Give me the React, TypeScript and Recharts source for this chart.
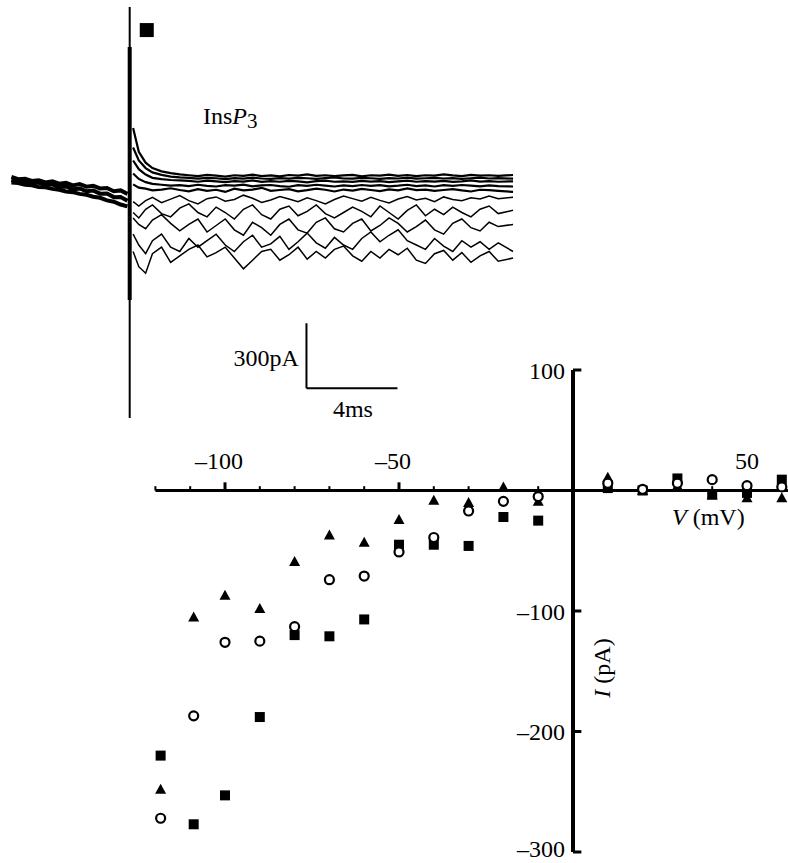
import React from 'react';
import { XAxis, YAxis, ReferenceLine, ReferenceDot, ScatterChart, Scatter } from 'recharts';

const FONT = "'Liberation Serif', 'Times New Roman', serif";

// ---------- I-V data ----------
const voltages = [-118.5, -109, -100, -90, -80, -70, -60, -50, -40, -30, -20, -10, 10, 20, 30, 40, 50, 60];
const currentSquare = [-220, -277, -253, -188, -120, -121, -107, -45, -45, -46, -22, -25, 2, 0, 10, -3, -2, 9];
const currentCircle = [-272, -187, -126, -125, -113, -74, -71, -51, -39, -17, -9, -5, 6, 1, 6, 9, 4, 3];
const currentTriangle = [-248, -105, -87, -98, -59, -37, -43, -24, -8, -10, 3, -9, 11, 0, 4, -4, -6, -6];

const xMajorTicks = [-100, -50, 50];
const xMinorTicks = [-120, -110, -90, -80, -70, -60, -40, -30, -20, -10, 10, 20, 30, 40, 60];
const yTicks = [100, -100, -200, -300];

// ---------- current traces (ms, pA) ----------
const preTimes = [-5.2, -4.9, -4.6, -4.3, -4.0, -3.7, -3.4, -3.1, -2.8, -2.5, -2.2, -1.9, -1.6, -1.3, -1.0, -0.7, -0.4, -0.1];
const preUpper = [14, 4, 6, -4, -1, -11, -6, -17, -13, -25, -19, -31, -27, -39, -37, -52, -48, -64];
const preMid = [0, -8, -5, -16, -12, -24, -20, -33, -30, -43, -39, -52, -49, -63, -62, -79, -78, -96];
const preLower = [-12, -14, -22, -24, -32, -34, -41, -45, -53, -56, -64, -68, -77, -82, -94, -100, -113, -122];

const postTimes = [0.15, 0.4, 0.7, 1.0, 1.4, 1.8, 2.2, 2.6, 3.0, 3.4, 3.8, 4.2, 4.6, 5.0, 5.4, 5.8, 6.2, 6.6, 7.0, 7.4, 7.8, 8.2, 8.6, 9.0, 9.4, 9.8, 10.2, 10.6, 11.0, 11.4, 11.8, 12.2, 12.6, 13.0, 13.4, 13.8, 14.2, 14.6, 15.0, 15.4, 15.8, 16.2, 16.85];
const traceA = [240, 130, 80, 55, 40, 32, 26, 22, 18, 24, 20, 16, 22, 19, 25, 18, 21, 17, 23, 20, 26, 19, 22, 18, 21, 24, 17, 22, 20, 25, 19, 23, 18, 22, 20, 26, 21, 18, 24, 20, 22, 19, 23];
const traceB = [150, 90, 55, 35, 24, 16, 12, 10, 6, 10, 8, 4, 9, 6, 11, 7, 5, 9, 6, 10, 8, 5, 9, 12, 7, 6, 10, 8, 5, 9, 7, 11, 6, 8, 10, 7, 9, 5, 8, 11, 7, 9, 6];
const traceC = [90, 50, 25, 10, 4, 0, -2, -4, -8, -3, -6, -10, -5, -7, -2, -9, -5, -8, -4, -6, -11, -5, -3, -8, -6, -9, -4, -7, -5, -10, -6, -3, -8, -5, -7, -4, -9, -6, -2, -7, -5, -8, -6];
const traceD = [30, 5, -10, -18, -22, -26, -24, -28, -22, -27, -30, -24, -26, -21, -29, -25, -23, -28, -31, -24, -27, -22, -26, -30, -25, -28, -23, -27, -24, -29, -26, -22, -28, -25, -30, -24, -27, -23, -26, -29, -25, -28, -30];
const traceE = [-20, -35, -40, -48, -44, -38, -46, -52, -42, -50, -45, -55, -40, -48, -44, -36, -50, -46, -42, -52, -47, -40, -45, -53, -44, -49, -41, -46, -51, -43, -48, -39, -47, -44, -50, -46, -42, -48, -53, -45, -47, -50, -55];
const traceF = [-100, -120, -95, -80, -105, -88, -72, -95, -110, -86, -78, -98, -90, -70, -84, -104, -92, -76, -88, -100, -82, -95, -110, -90, -74, -86, -98, -80, -94, -106, -88, -76, -92, -84, -100, -78, -90, -96, -82, -88, -74, -86, -80];
const traceG = [-150, -175, -135, -115, -155, -170, -130, -110, -150, -170, -125, -150, -180, -135, -115, -160, -180, -135, -120, -165, -145, -115, -155, -175, -150, -125, -145, -170, -120, -150, -180, -140, -115, -165, -135, -160, -125, -150, -170, -135, -120, -155, -140];
const traceH = [-175, -205, -225, -185, -160, -200, -235, -205, -180, -240, -210, -180, -230, -255, -195, -220, -255, -205, -180, -230, -245, -195, -175, -225, -240, -200, -180, -235, -210, -175, -200, -240, -215, -185, -230, -250, -200, -180, -220, -235, -195, -215, -205];
const traceI = [-250, -300, -340, -280, -250, -310, -330, -270, -310, -280, -250, -300, -330, -285, -255, -310, -295, -260, -320, -285, -245, -290, -315, -265, -300, -320, -270, -240, -285, -255, -230, -280, -300, -320, -270, -305, -330, -280, -310, -285, -320, -290, -330];
const traceJ = [-330, -400, -430, -340, -310, -380, -350, -320, -300, -355, -335, -310, -360, -410, -370, -330, -320, -370, -345, -310, -365, -330, -360, -320, -305, -350, -375, -330, -360, -320, -345, -315, -370, -385, -340, -325, -370, -335, -380, -350, -330, -375, -360];

// scale bar: 300 pA, 4 ms
const scaleBarT = 7.77;
const scaleBarI = -961;
const scaleBarMs = 4;
const scaleBarPa = 300;

// stimulus artifact extents (pA)
const artifactTop = 798;
const artifactBottom = -1098;
const artifactThickTop = 614;
const artifactThickBottom = -554;

// legend marker position (ms, pA)
const markerT = 0.75;
const markerI = 692;

const toPts = (times: number[], vals: number[]) => times.map((t, k) => ({ t, I: vals[k] }));
const preTraces = [preUpper, preMid, preLower].map((v) => toPts(preTimes, v));
const postTraces = [traceA, traceB, traceC, traceD, traceE, traceF, traceG, traceH, traceI, traceJ].map((v) => toPts(postTimes, v));

const sqData = voltages.map((v, k) => ({ v, i: currentSquare[k] }));
const ciData = voltages.map((v, k) => ({ v, i: currentCircle[k] }));
const trData = voltages.map((v, k) => ({ v, i: currentTriangle[k] }));

const fmt = (v: number) => (v < 0 ? '\u2013' + Math.abs(v) : String(v));

const SquareMark = (p: any) => <rect x={p.cx - 5} y={p.cy - 5} width={10} height={10} fill="#000" />;
const CircleMark = (p: any) => <circle cx={p.cx} cy={p.cy} r={4.5} fill="#fff" stroke="#000" strokeWidth={2.2} />;
const TriMark = (p: any) => (
  <polygon points={`${p.cx},${p.cy - 5.5} ${p.cx + 5.5},${p.cy + 4.5} ${p.cx - 5.5},${p.cy + 4.5}`} fill="#000" />
);
const NoMark = () => <g />;

const XTickLabel = (text: string) => (props: any) => {
  const vb = props.viewBox || {};
  const shift = text.startsWith('\u2013') ? -6 : 0;
  return (
    <text x={vb.x + (vb.width || 0) / 2 + shift} y={vb.y - 13.5} textAnchor="middle" fontSize={24} fontFamily={FONT} fill="#000">
      {text}
    </text>
  );
};
const YTickLabel = (text: string, dy: number) => (props: any) => {
  const vb = props.viewBox || {};
  return (
    <text x={vb.x - 8} y={vb.y + (vb.height || 0) / 2 + dy} textAnchor="end" fontSize={24} fontFamily={FONT} fill="#000">
      {text}
    </text>
  );
};
const SideLabel = (text: string, side: 'left' | 'bottom') => (props: any) => {
  const vb = props.viewBox || {};
  if (side === 'left')
    return (
      <text x={vb.x - 7.5} y={vb.y + (vb.height || 0) / 2 + 10} textAnchor="end" fontSize={24} fontFamily={FONT} fill="#000">
        {text}
      </text>
    );
  return (
    <text x={vb.x + (vb.width || 0) / 2 + 1} y={vb.y + 28.5} textAnchor="middle" fontSize={24} fontFamily={FONT} fill="#000">
      {text}
    </text>
  );
};

export default function App() {
  return (
    <div style={{ position: 'absolute', left: 0, top: 0, width: 788, height: 863, background: '#fff', overflow: 'hidden' }}>
      {/* I-V plot */}
      <div style={{ position: 'absolute', left: 0, top: 0 }}>
        <ScatterChart width={788} height={863} margin={{ top: 370, right: 0, bottom: 11, left: 155.4 }}>
          <XAxis type="number" dataKey="v" domain={[-120, 61.78]} hide />
          <YAxis type="number" dataKey="i" domain={[-300, 100]} hide />
          <ReferenceLine y={0} stroke="#000" strokeWidth={3} />
          <ReferenceLine segment={[{ x: 0, y: -300 }, { x: 0, y: 100 }]} stroke="#000" strokeWidth={4} />
          {xMinorTicks.map((v) => (
            <ReferenceLine key={'mi' + v} segment={[{ x: v, y: 0 }, { x: v, y: 3.6 }]} stroke="#000" strokeWidth={2} />
          ))}
          {xMajorTicks.map((v) => (
            <ReferenceLine key={'ma' + v} segment={[{ x: v, y: 0 }, { x: v, y: 6.8 }]} stroke="#000" strokeWidth={3} label={XTickLabel(fmt(v))} />
          ))}
          {yTicks.map((v) => (
            <ReferenceLine
              key={'y' + v}
              segment={[{ x: 0, y: v }, { x: 2.4, y: v }]}
              stroke="#000"
              strokeWidth={3}
              label={YTickLabel(fmt(v), v === -300 ? 5 : 8.5)}
            />
          ))}
          <Scatter data={sqData} shape={SquareMark} isAnimationActive={false} />
          <Scatter data={trData} shape={TriMark} isAnimationActive={false} />
          <Scatter data={ciData} shape={CircleMark} isAnimationActive={false} />
        </ScatterChart>
      </div>

      {/* current traces */}
      <div style={{ position: 'absolute', left: 0, top: 0 }}>
        <ScatterChart width={520} height={430} margin={{ top: 0, right: 0, bottom: 0, left: 0 }}>
          <XAxis type="number" dataKey="t" domain={[-5.701, 17.156]} hide />
          <YAxis type="number" dataKey="I" domain={[-1153.8, 830.8]} hide />
          <ReferenceLine segment={[{ x: 0, y: artifactTop }, { x: 0, y: artifactBottom }]} stroke="#000" strokeWidth={2} />
          <ReferenceLine segment={[{ x: 0, y: artifactThickTop }, { x: 0, y: artifactThickBottom }]} stroke="#000" strokeWidth={4} />
          {preTraces.map((d, k) => (
            <Scatter
              key={'pre' + k}
              data={d}
              line={{ stroke: '#000', strokeWidth: 4 }}
              lineType="joint"
              shape={NoMark}
              isAnimationActive={false}
            />
          ))}
          {postTraces.map((d, k) => (
            <Scatter
              key={'post' + k}
              data={d}
              line={{ stroke: '#000', strokeWidth: k < 5 ? 2.2 : 1.5 }}
              lineType="joint"
              shape={NoMark}
              isAnimationActive={false}
            />
          ))}
          <ReferenceLine
            segment={[{ x: scaleBarT, y: scaleBarI + scaleBarPa }, { x: scaleBarT, y: scaleBarI }]}
            stroke="#000"
            strokeWidth={2}
            label={SideLabel('300pA', 'left')}
          />
          <ReferenceLine
            segment={[{ x: scaleBarT, y: scaleBarI }, { x: scaleBarT + scaleBarMs, y: scaleBarI }]}
            stroke="#000"
            strokeWidth={2}
            label={SideLabel('4ms', 'bottom')}
          />
          <ReferenceDot
            x={markerT}
            y={markerI}
            r={7}
            shape={(p: any) => <rect x={p.cx - 7} y={p.cy - 7} width={14} height={14} fill="#000" />}
          />
        </ScatterChart>
      </div>

      {/* free annotations */}
      <svg width={788} height={863} style={{ position: 'absolute', left: 0, top: 0, pointerEvents: 'none' }}>
        <text x={203} y={124} fontSize={24} fontFamily={FONT} fill="#000">
          Ins<tspan fontStyle="italic">P</tspan>
          <tspan fontSize={21} dy={4}>3</tspan>
        </text>
        <text x={672} y={525} fontSize={24} fontFamily={FONT} fill="#000">
          <tspan fontStyle="italic">V</tspan> (mV)
        </text>
        <text transform="translate(610,668) rotate(-90)" textAnchor="middle" fontSize={24} fontFamily={FONT} fill="#000">
          <tspan fontStyle="italic">I</tspan> (pA)
        </text>
      </svg>
    </div>
  );
}
